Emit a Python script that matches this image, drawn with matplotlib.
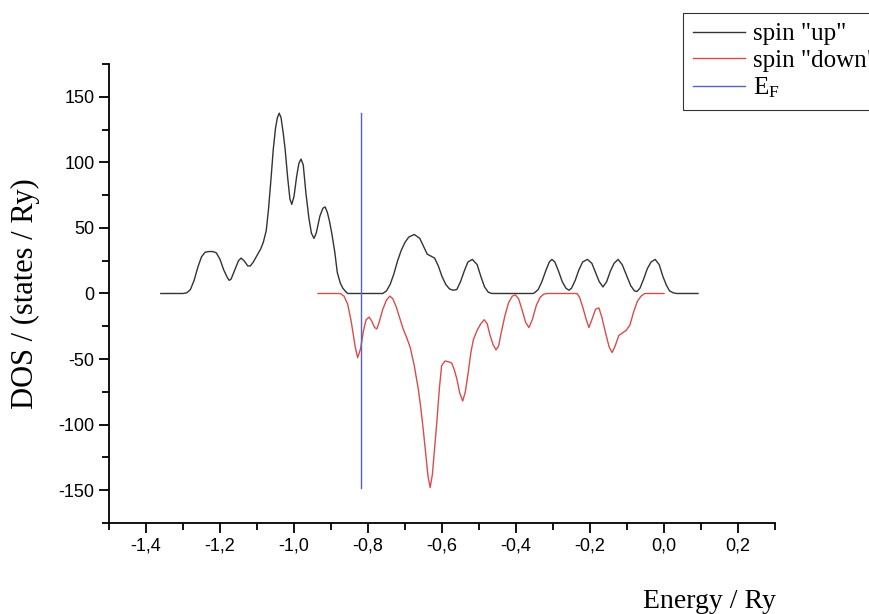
import matplotlib
matplotlib.use("Agg")
import matplotlib.pyplot as plt
from matplotlib.ticker import MultipleLocator, FuncFormatter

# spin "up" DOS (energy in Ry, states / Ry)
up_e = [-1.36, -1.30, -1.29, -1.28, -1.27, -1.26, -1.25, -1.24, -1.23, -1.22,
        -1.21, -1.20, -1.19, -1.18, -1.175, -1.17, -1.16, -1.15, -1.143, -1.135,
        -1.125, -1.118, -1.11, -1.10, -1.09, -1.083, -1.075, -1.069, -1.062, -1.056,
        -1.05, -1.045, -1.04, -1.035, -1.029, -1.024, -1.017, -1.011, -1.006, -1.0,
        -0.993, -0.987, -0.981, -0.975, -0.968, -0.96, -0.953, -0.946, -0.94, -0.93,
        -0.922, -0.916, -0.91, -0.904, -0.898, -0.89, -0.883, -0.875, -0.868, -0.862,
        -0.855, -0.76, -0.75, -0.74, -0.73, -0.72, -0.71, -0.70, -0.69, -0.675,
        -0.66, -0.65, -0.64, -0.63, -0.62, -0.61, -0.60, -0.59, -0.58, -0.57,
        -0.56, -0.55, -0.54, -0.53, -0.518, -0.505, -0.495, -0.485, -0.475, -0.465,
        -0.355, -0.35, -0.34, -0.33, -0.32, -0.31, -0.303, -0.295, -0.285, -0.275,
        -0.265, -0.257, -0.25, -0.24, -0.23, -0.22, -0.207, -0.195, -0.185, -0.175,
        -0.165, -0.155, -0.145, -0.135, -0.124, -0.113, -0.10, -0.09, -0.08, -0.073,
        -0.065, -0.055, -0.045, -0.035, -0.024, -0.013, -0.003, 0.007, 0.015, 0.025,
        0.035, 0.092]
up_dos = [0, 0, 0.5, 3, 10, 20, 28, 31.5, 32, 32,
          31, 26, 18, 12, 10, 11, 18, 25, 27, 25,
          21, 21, 24, 29, 34, 39, 48, 64, 88, 110,
          126, 134, 137.5, 134, 122, 110, 88, 72, 68, 74,
          89, 99, 102.5, 98, 77, 58, 46, 42, 46, 59,
          65, 66, 62, 55, 46, 32, 16, 8, 4, 2,
          0, 0, 2, 7, 15, 25, 33, 39, 43, 45,
          42, 36, 30, 28.5, 27, 21, 13, 7, 3.5, 2.5,
          3, 9, 17, 24, 26, 22, 13, 5, 1, 0,
          0, 0.5, 3, 9, 17, 24, 26, 24, 17, 9,
          4, 2.5, 4, 10, 18, 24, 26, 23, 16, 9,
          5, 9, 17, 23, 26, 22, 13, 6, 2, 1.5,
          4, 11, 19, 24, 26, 22, 13, 6, 2, 0.5,
          0, 0]

# spin "down" DOS (plotted negative)
down_e = [-0.935, -0.875, -0.865, -0.855, -0.845, -0.835, -0.828, -0.82, -0.812, -0.805,
          -0.797, -0.79, -0.782, -0.776, -0.77, -0.76, -0.75, -0.741, -0.733, -0.724,
          -0.714, -0.705, -0.695, -0.686, -0.675, -0.664, -0.657, -0.651, -0.644, -0.638,
          -0.632, -0.626, -0.62, -0.614, -0.607, -0.601, -0.592, -0.583, -0.574, -0.567,
          -0.56, -0.552, -0.544, -0.537, -0.529, -0.522, -0.515, -0.505, -0.495, -0.486,
          -0.478, -0.47, -0.462, -0.454, -0.447, -0.44, -0.43, -0.42, -0.41, -0.402,
          -0.393, -0.383, -0.374, -0.365, -0.356, -0.345, -0.335, -0.325, -0.315, -0.235,
          -0.228, -0.22, -0.21, -0.203, -0.195, -0.185, -0.176, -0.168, -0.158, -0.148,
          -0.14, -0.132, -0.122, -0.112, -0.102, -0.092, -0.082, -0.072, -0.062, -0.052,
          0.0]
down_dos = [0, 0, -2, -8, -22, -40, -49, -42, -28, -20,
            -18, -21, -26, -27, -22, -12, -5, -2, -4, -10,
            -19, -27, -34, -41, -55, -73, -88, -103, -122, -139,
            -148, -138, -118, -98, -72, -55, -51.5, -52, -53, -58,
            -65, -76, -82, -75, -60, -45, -35, -28, -23, -20,
            -23, -32, -39, -43, -40, -30, -17, -7, -2, -1,
            -4, -13, -22, -26, -20, -9, -3, -0.5, 0, 0,
            -3, -10, -20, -26, -20, -12, -11, -18, -30, -41,
            -45, -40, -32, -30, -28, -24, -14, -6, -2, 0,
            0]

# Fermi level
ef = -0.82
ef_range = [-148, 138]

plt.rcParams["axes.unicode_minus"] = False
plt.rcParams["mathtext.fontset"] = "custom"
plt.rcParams["mathtext.rm"] = "Liberation Serif"
plt.rcParams["mathtext.it"] = "Liberation Serif"

fig = plt.figure(figsize=(8.7, 6.14), dpi=100)
ax = fig.add_axes([0.1253, 0.1482, 0.7655, 0.7476])

ax.plot(up_e, up_dos, color="#333333", lw=1.0, label='spin "up"')
ax.plot(down_e, down_dos, color="#d94c4c", lw=1.0, label='spin "down"')
ax.plot([ef, ef], ef_range, color="#5561c4", lw=1.0, label=r"E$_{\rm F}$")

ax.set_xlim(-1.5, 0.3)
ax.set_ylim(-175, 175)
ax.spines["top"].set_visible(False)
ax.spines["right"].set_visible(False)
for s in ("left", "bottom"):
    ax.spines[s].set_linewidth(1.3)

ax.xaxis.set_major_locator(MultipleLocator(0.2))
ax.xaxis.set_minor_locator(MultipleLocator(0.1))
ax.yaxis.set_major_locator(MultipleLocator(50))
ax.yaxis.set_minor_locator(MultipleLocator(25))
ax.xaxis.set_major_formatter(FuncFormatter(lambda v, p: f"{v:.1f}".replace(".", ",").replace("-0,0", "0,0")))
ax.tick_params(which="major", direction="out", length=7, width=1.3, labelsize=13)
ax.tick_params(which="minor", direction="out", length=5, width=1.3)
for lab in ax.get_xticklabels() + ax.get_yticklabels():
    lab.set_fontfamily("Liberation Sans")

ax.set_ylabel("DOS / (states / Ry)", family="Liberation Serif", fontsize=22)
ax.yaxis.set_label_coords(-0.104, 0.5)
fig.text(0.815, 0.0098, "Energy / Ry", family="Liberation Serif", fontsize=20,
         ha="center", va="baseline")

# legend runs off the right edge, as in the original
leg = ax.legend(loc="upper left", bbox_to_anchor=(0.785, 0.979), bbox_transform=fig.transFigure,
                prop={"family": "Liberation Serif", "size": 18}, frameon=True, fancybox=False,
                edgecolor="black", handlelength=2.1, handletextpad=0.3, labelspacing=0.15,
                borderpad=0.4, borderaxespad=0)
leg.get_frame().set_linewidth(0.8)

fig.savefig("out.png", dpi=100)
